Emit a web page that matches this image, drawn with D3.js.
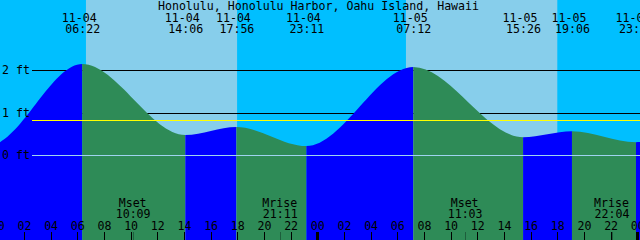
<!DOCTYPE html>
<html><head><meta charset="utf-8">
<script src="https://cdn.jsdelivr.net/npm/d3@7"></script>
<style>html,body{margin:0;padding:0;background:#fff;overflow:hidden}svg{display:block}
text{font-family:"DejaVu Sans Mono",monospace;font-size:11.6px;fill:#000}</style>
</head><body>
<script>
const title = "Honolulu, Honolulu Harbor, Oahu Island, Hawaii";
// tide extremes (first two and last lie outside the visible window)
const tideTimes = ["11-03 17:10","11-03 23:20","11-04 06:22","11-04 14:06","11-04 17:56","11-04 23:11","11-05 07:12","11-05 15:26","11-05 19:06","11-05 23:54","11-06 07:50"];
const tideLevels = [0.62, 0.22, 2.14, 0.47, 0.66, 0.21, 2.07, 0.42, 0.56, 0.30, 2.0];
const tideTimeLabels = ["06:22","14:06","17:56","23:11","07:12","15:26","19:06","23:54"];
const sunrise = ["11-04 06:39","11-05 06:39"];
const sunset = ["11-04 17:59","11-05 18:00"];
const moonEvents = ["Mset","Mrise","Mset","Mrise"];
const moonTimes = ["11-04 10:09","11-04 21:11","11-05 11:03","11-05 22:04"];
const depthTicks = [0, 1, 2];
const depthLabels = ["0 ft","1 ft","2 ft"];
const mslLevel = 0.82;
const hourLabels = ["00","02","04","06","08","10","12","14","16","18","20","22"];
const days = ["11-04","11-05","11-06"];

const W = 640, H = 240;
function toHours(s){
  const [d, t] = s.split(" ");
  const day = +d.split("-")[1] - 4;
  const [hh, mm] = t.split(":").map(Number);
  return day*24 + hh + mm/60;
}
const x = d3.scaleLinear().domain([0, 48]).range([-2.7, 637.3]);
const y = d3.scaleLinear().domain([0, 2]).range([155, 70]);

const svg = d3.select("body").append("svg").attr("width", W).attr("height", H);

// sky
svg.append("rect").attr("x",0).attr("y",0).attr("width",W).attr("height",H).attr("fill","#00BFFF");
sunrise.forEach((s,i)=>{
  const a = x(toHours(s)), b = x(toHours(sunset[i]));
  svg.append("rect").attr("x",a).attr("y",0).attr("width",b-a).attr("height",H).attr("fill","#87CEEB");
});

// depth lines behind water
depthTicks.filter(d=>d>0).forEach(d=>{
  svg.append("line").attr("x1",32).attr("x2",W).attr("y1",Math.round(y(d))+0.5).attr("y2",Math.round(y(d))+0.5)
    .attr("stroke","#000").attr("stroke-width",1).attr("shape-rendering","crispEdges");
});

// water
const pts = tideTimes.map((t,i)=>({h: toHours(t), v: tideLevels[i]}));
const area = d3.area().x(d=>x(d.h)).y0(H).y1(d=>y(d.v)).curve(d3.curveMonotoneX);
svg.append("clipPath").attr("id","water").append("path").attr("d", area(pts));
const wg = svg.append("g").attr("clip-path","url(#water)");
for (let i=0;i<pts.length-1;i++){
  const a = x(pts[i].h), b = x(pts[i+1].h);
  wg.append("rect").attr("x",a).attr("y",0).attr("width",b-a).attr("height",H)
    .attr("fill", pts[i+1].v > pts[i].v ? "#0000FF" : "#2E8B57");
}

// datum line & MSL
svg.append("line").attr("x1",32).attr("x2",W).attr("y1",Math.round(y(0))+0.5).attr("y2",Math.round(y(0))+0.5)
  .attr("stroke","#9fd3f0").attr("stroke-width",1).attr("shape-rendering","crispEdges");
svg.append("line").attr("x1",32).attr("x2",W).attr("y1",Math.round(y(mslLevel))+0.5).attr("y2",Math.round(y(mslLevel))+0.5)
  .attr("stroke","#FFFF00").attr("stroke-width",1.5).attr("shape-rendering","crispEdges");

// depth labels
depthTicks.forEach((d,i)=>{
  svg.append("text").attr("x",2).attr("y",y(d)+4).text(depthLabels[i]);
});

// title and extreme labels
svg.append("text").attr("x",318.5).attr("y",10).attr("text-anchor","middle").text(title);
const visible = pts.slice(2, pts.length-1);
visible.forEach((p,i)=>{
  const xx = x(p.h);
  svg.append("text").attr("x",xx-3).attr("y",22).attr("text-anchor","middle").text(tideTimes[i+2].split(" ")[0]);
  svg.append("text").attr("x",xx+0.5).attr("y",33).attr("text-anchor","middle").text(tideTimeLabels[i]);
});

// moon events
moonTimes.forEach((m,i)=>{
  const xx = x(toHours(m));
  svg.append("text").attr("x",xx).attr("y",207).attr("text-anchor","middle").text(moonEvents[i]);
  svg.append("text").attr("x",xx+0.5).attr("y",218).attr("text-anchor","middle").text(m.split(" ")[1]);
  svg.append("line").attr("x1",Math.round(xx)+0.5).attr("x2",Math.round(xx)+0.5).attr("y1",232).attr("y2",H)
    .attr("stroke","#1d5e3c").attr("stroke-width",1).attr("shape-rendering","crispEdges");
});

// hour axis
days.forEach((d,di)=>{
  hourLabels.forEach((hl)=>{
    const h = di*24 + (+hl);
    const xx = x(h);
    if (xx < -20 || xx > W+20) return;
    svg.append("text").attr("x",xx+0.5).attr("y",230).attr("text-anchor","middle").text(hl);
    const mid = (+hl)===0;
    svg.append("line").attr("x1",Math.round(xx)+0.5).attr("x2",Math.round(xx)+0.5).attr("y1",232).attr("y2",H)
      .attr("stroke","#000").attr("stroke-width", mid ? 3 : 1).attr("shape-rendering","crispEdges");
  });
});
</script>
</body></html>
